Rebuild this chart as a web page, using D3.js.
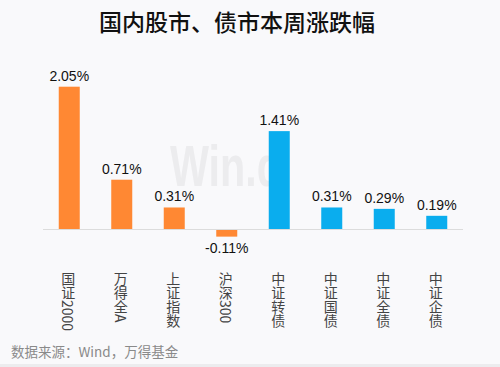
<!DOCTYPE html>
<html>
<head>
<meta charset="utf-8">
<script src="https://cdn.jsdelivr.net/npm/d3@7"></script>
<style>
  body { margin: 0; background: #fff; }
  svg { display: block; font-family: "Noto Sans CJK SC", "Liberation Sans", sans-serif; }
</style>
</head>
<body>
<div id="chart"></div>
<script>
// data
const categories = ["国证2000", "万得全A", "上证指数", "沪深300", "中证转债", "中证国债", "中证全债", "中证企债"]
const changes = [2.05, 0.71, 0.31, -0.11, 1.41, 0.31, 0.29, 0.19]
const groups = ["stock", "stock", "stock", "stock", "bond", "bond", "bond", "bond"]

const W = 500, H = 367
const baseY = 229

let svg = d3.select("#chart").append("svg")
    .attr("width", W)
    .attr("height", H)

svg.append("rect")
    .attr("width", W).attr("height", H)
    .attr("fill", "#f9f9fb")
svg.append("rect")
    .attr("x", 0).attr("y", H - 3).attr("width", W).attr("height", 3)
    .attr("fill", "#ececee")

// title
svg.append("text")
    .text("国内股市、债市本周涨跌幅")
    .attr("x", 237)
    .attr("y", 31)
    .attr("text-anchor", "middle")
    .attr("font-size", 23)
    .attr("font-weight", 500)
    .attr("fill", "#111")

// watermark (sits behind the bars)
svg.append("text")
    .text("Win.d")
    .attr("x", 170)
    .attr("y", 186)
    .attr("font-family", "Liberation Sans, sans-serif")
    .attr("font-size", 58)
    .attr("font-weight", "bold")
    .attr("textLength", 112)
    .attr("lengthAdjust", "spacingAndGlyphs")
    .attr("fill", "#ececee")

// scales
let x = d3.scaleBand()
    .domain(categories)
    .range([43, 463])
    .paddingInner(0.6)
    .paddingOuter(0.3)
let y = d3.scaleLinear()
    .domain([0, 2.05])
    .range([baseY, baseY - 142.3])

const color = d3.scaleOrdinal()
    .domain(["stock", "bond"])
    .range(["#ff8833", "#0aadee"])

// bars
svg.selectAll(".bar")
    .data(changes)
    .enter().append("rect")
    .attr("class", "bar")
    .attr("x", (d, i) => x(categories[i]))
    .attr("width", x.bandwidth())
    .attr("y", d => y(Math.max(0, d)))
    .attr("height", d => Math.abs(y(d) - y(0)))
    .attr("fill", (d, i) => color(groups[i]))

// zero line
svg.append("line")
    .attr("x1", 43).attr("x2", 463)
    .attr("y1", y(0) + 0.5).attr("y2", y(0) + 0.5)
    .attr("stroke", "#dcdcdc")

// value labels
svg.selectAll(".val")
    .data(changes)
    .enter().append("text")
    .attr("class", "val")
    .text(d => d.toFixed(2) + "%")
    .attr("x", (d, i) => x(categories[i]) + x.bandwidth() / 2)
    .attr("y", d => d >= 0 ? y(d) - 6 : y(d) + 16)
    .attr("text-anchor", "middle")
    .attr("font-family", "Liberation Sans, Arial, sans-serif")
    .attr("font-size", 14)
    .attr("fill", "#111")

// category labels, vertical
svg.selectAll(".cat")
    .data(categories)
    .enter().append("text")
    .attr("class", "cat")
    .text(d => d)
    .attr("x", d => x(d) + x.bandwidth() / 2 - 1)
    .attr("y", 272)
    .attr("font-size", 14)
    .attr("fill", "#444")
    .style("writing-mode", "vertical-rl")
    .style("text-orientation", "mixed")

// source
svg.append("text")
    .text("数据来源：Wind，万得基金")
    .attr("x", 11)
    .attr("y", 357)
    .attr("font-size", 13.5)
    .attr("fill", "#8a8a8a")
</script>
</body>
</html>
